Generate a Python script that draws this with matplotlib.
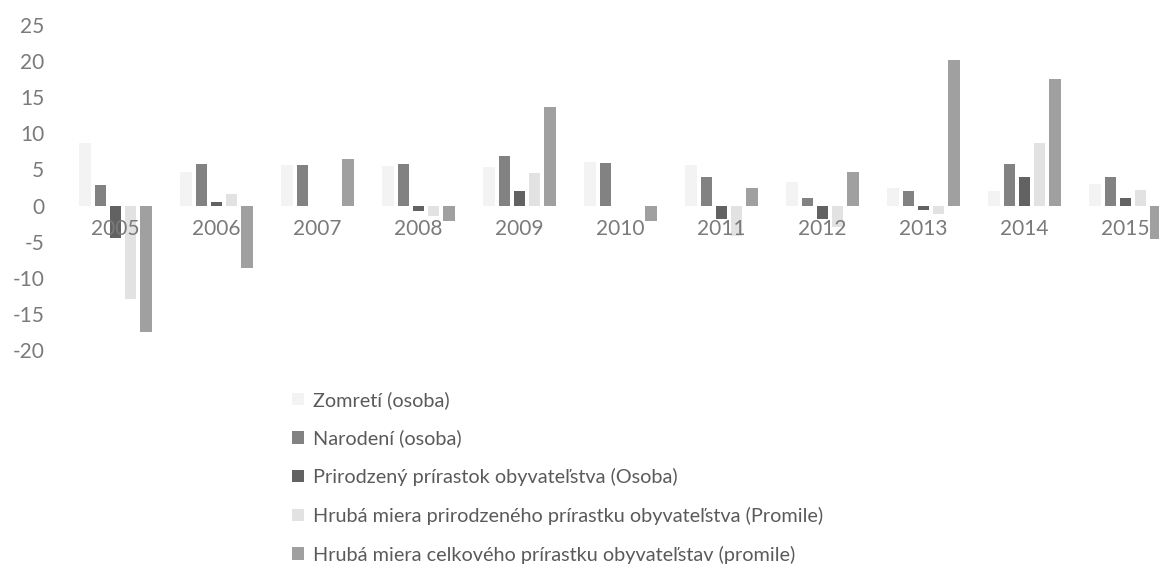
import matplotlib
matplotlib.use("Agg")
import matplotlib.pyplot as plt
import numpy as np

years = ["2005", "2006", "2007", "2008", "2009", "2010", "2011", "2012", "2013", "2014", "2015"]
series_names = [
    "Zomretí (osoba)",
    "Narodení (osoba)",
    "Prirodzený prírastok obyvateľstva (Osoba)",
    "Hrubá miera prirodzeného prírastku obyvateľstva (Promile)",
    "Hrubá miera celkového prírastku obyvateľstav (promile)",
]
zomreti = [8.7, 4.6, 5.6, 5.5, 5.4, 6.0, 5.6, 3.3, 2.5, 2.0, 3.0]
narodeni = [2.9, 5.7, 5.6, 5.8, 6.8, 5.9, 4.0, 1.0, 2.0, 5.8, 4.0]
prirodzeny = [-4.5, 0.5, 0.0, -0.8, 2.0, 0.0, -1.8, -1.8, -0.6, 4.0, 1.0]
hruba_prir = [-12.9, 1.6, 0.0, -1.5, 4.5, 0.0, -4.2, -3.0, -1.2, 8.7, 2.2]
hruba_celk = [-17.5, -8.6, 6.5, -2.2, 13.6, -2.1, 2.4, 4.7, 20.1, 17.5, -4.6]

colors = ["#f3f3f3", "#828282", "#626262", "#e2e2e2", "#a0a0a0"]

plt.rcParams['font.family'] = ['Lato', 'DejaVu Sans']

W, H = 1159, 587
fig = plt.figure(figsize=(W / 100, H / 100), dpi=100)
ax = fig.add_axes([65 / W, 1 - 350 / H, 1111 / W, 325 / H])

x = np.arange(len(years))
step = 0.15
width = 0.115
data = [zomreti, narodeni, prirodzeny, hruba_prir, hruba_celk]
for i, (vals, name, c) in enumerate(zip(data, series_names, colors)):
    ax.bar(x + (i - 2) * step, vals, width=width, color=c, label=name, zorder=2)

ax.set_xlim(-0.5, len(years) - 0.5)
ax.set_ylim(-20, 25)
ax.set_yticks(np.arange(-20, 26, 5))
ax.set_yticklabels([str(v) for v in range(-20, 26, 5)])
ax.tick_params(axis='y', length=0, labelsize=15, labelcolor="#7a7a7a", pad=15)
ax.set_xticks([])
for s in ax.spines.values():
    s.set_visible(False)

for xi, yr in zip(x, years):
    ax.text(xi, -3.2, yr, ha='center', va='center', fontsize=15, color="#7a7a7a", zorder=3)

handles, labels = ax.get_legend_handles_labels()
leg = fig.legend(handles, labels, loc='upper left', bbox_to_anchor=(292 / W, 1 - 391 / H),
                 frameon=False, ncol=1, fontsize=14.3, labelcolor="#5a5a5a",
                 handlelength=0.6, handleheight=0.6, handletextpad=0.45, labelspacing=1.04,
                 borderpad=0, borderaxespad=0)

fig.savefig("out.png", dpi=100, facecolor="white")
